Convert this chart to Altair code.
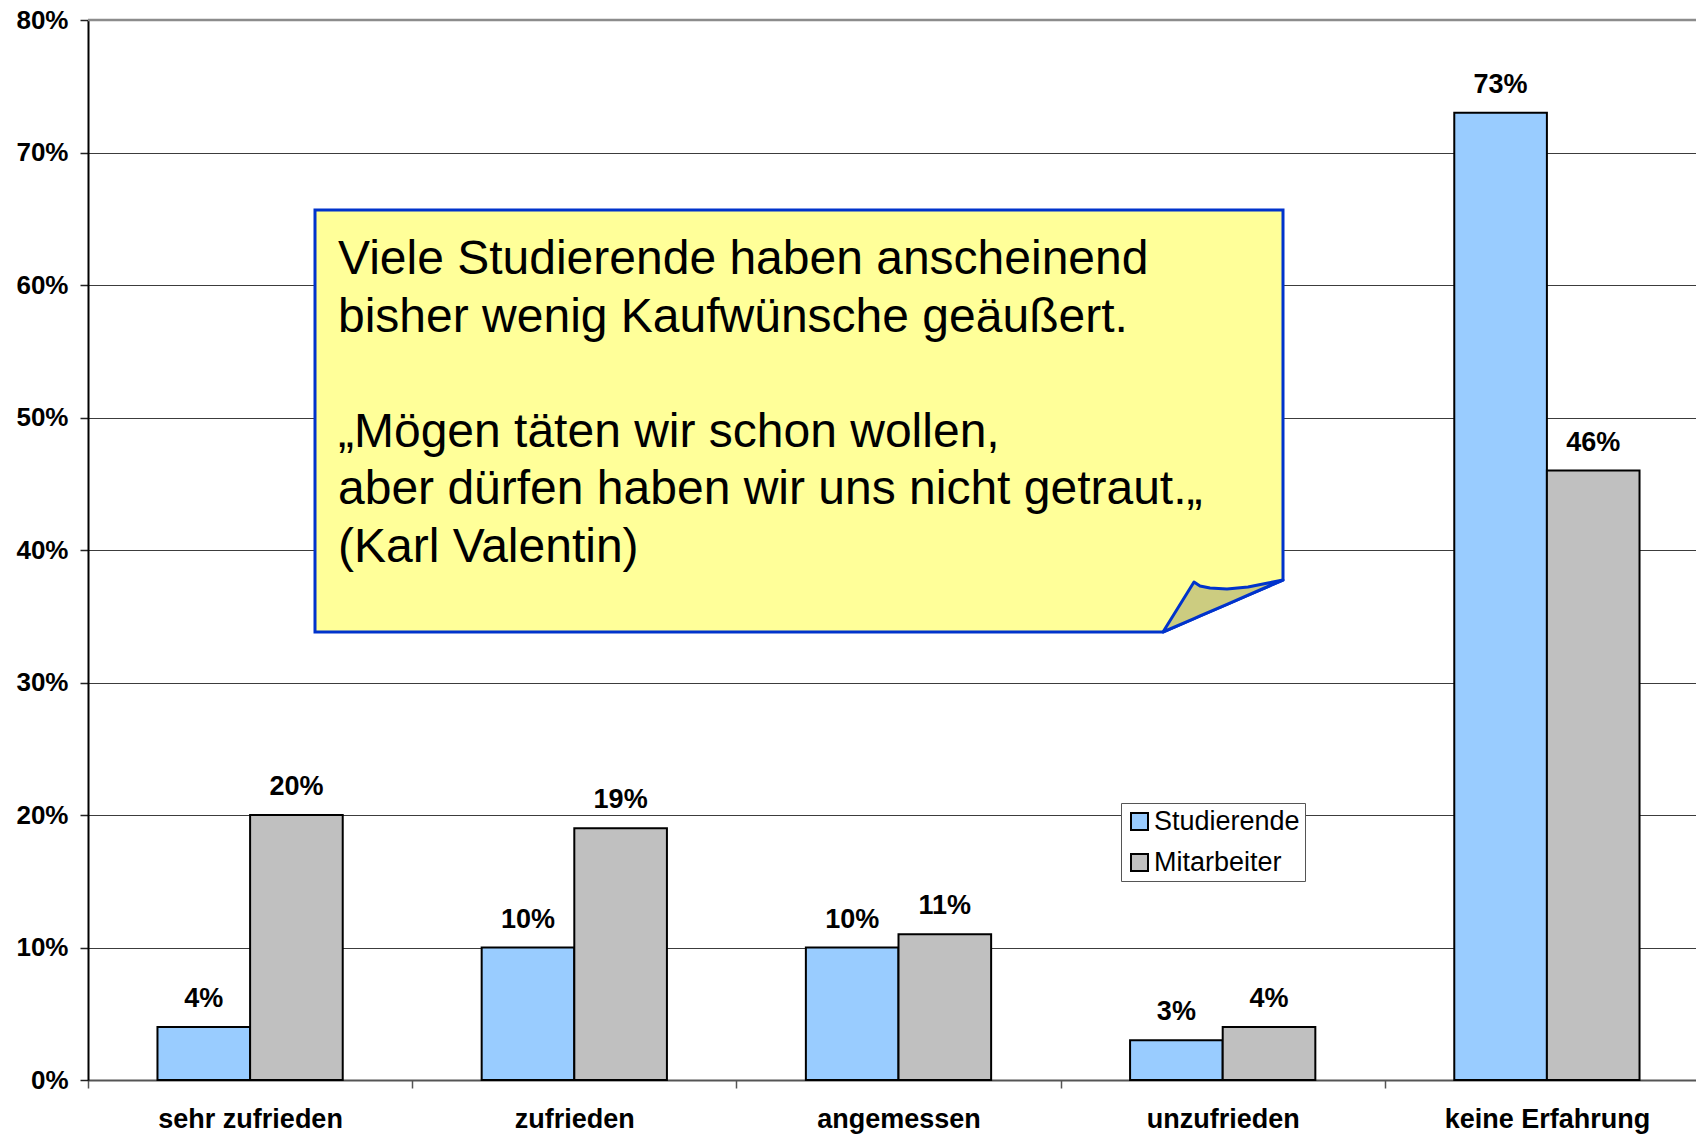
import altair as alt
import pandas as pd

categories = ["sehr zufrieden", "zufrieden", "angemessen", "unzufrieden", "keine Erfahrung"]
series = ["Studierende", "Mitarbeiter"]
studierende = [4, 10, 10, 3, 73]
mitarbeiter = [20, 19, 11, 4, 46]
y_ticks = [0, 10, 20, 30, 40, 50, 60, 70, 80]

note_block1 = ["Viele Studierende haben anscheinend",
               "bisher wenig Kaufwünsche geäußert."]
note_block2 = ["„Mögen täten wir schon wollen,",
               "aber dürfen haben wir uns nicht getraut.„",
               "(Karl Valentin)"]

W, H = 1608, 1060
XR = 1621
FONT = "Liberation Sans"

rows = []
for c, s, m in zip(categories, studierende, mitarbeiter):
    rows.append({"cat": c, "grp": "Studierende", "val": s, "lbl": f"{s}%"})
    rows.append({"cat": c, "grp": "Mitarbeiter", "val": m, "lbl": f"{m}%"})
df = pd.DataFrame(rows)

x_enc = alt.X("cat:N", sort=categories,
              scale=alt.Scale(paddingInner=0, paddingOuter=0, range=[0, XR]),
              axis=alt.Axis(title=None, labelAngle=0, labelFont=FONT, labelFontSize=27,
                            labelFontWeight="bold", labelColor="black", tickBand="extent",
                            tickSize=8, tickColor="#555555", tickWidth=1.5, labelLimit=0,
                            domainColor="#555555", domainWidth=2, labelPadding=18, grid=False))
xo_enc = alt.XOffset("grp:N", sort=series, scale=alt.Scale(paddingInner=0, paddingOuter=0.75))
y_enc = alt.Y("val:Q", scale=alt.Scale(domain=[0, 80], nice=False),
              axis=alt.Axis(title=None, values=y_ticks, labelExpr="datum.value + '%'",
                            labelFont=FONT, labelFontSize=26, labelFontWeight="bold",
                            labelColor="black", tickSize=8, tickColor="#222222", tickWidth=1.5,
                            labelPadding=12, domainColor="black", domainWidth=2,
                            grid=True, gridColor="#3c3c3c", gridWidth=1))

bars = alt.Chart(df).mark_bar(stroke="black", strokeWidth=2).encode(
    x=x_enc, xOffset=xo_enc, y=y_enc,
    color=alt.Color("grp:N", sort=series,
                    scale=alt.Scale(domain=series, range=["#99CCFF", "#C0C0C0"]),
                    legend=alt.Legend(title=None, orient="none", legendX=1033, legendY=783,
                                      fillColor="white", strokeColor="#555555", padding=5,
                                      symbolType="square", symbolSize=289,
                                      symbolStrokeColor="black", symbolStrokeWidth=2,
                                      labelFont=FONT, labelFontSize=27, labelColor="black",
                                      labelOffset=1, rowPadding=13)),
)

labels = alt.Chart(df).mark_text(baseline="alphabetic", dy=-20, font=FONT, fontSize=27,
                                 fontWeight="bold", color="black").encode(
    x=x_enc, xOffset=xo_enc, y=y_enc, text="lbl:N")

top_line = alt.Chart(alt.Data(values=[{}])).mark_rule(color="#8c8c8c", strokeWidth=2.5).encode(
    x=alt.value(0), x2=alt.value(W), y=alt.value(0))

main = alt.layer(bars, labels, top_line)

# callout note (pixel space annotation)
note_df = pd.DataFrame({"px": [227, 1075, 1195], "py": [190, 190, 190], "py2": [612, 612, 560]})
fold_px = [1075, 1106, 1112, 1122, 1139, 1160, 1180, 1195]
fold_top = [612, 562, 566, 568, 569, 567, 563, 560]
fold_bot = [612 - (x - 1075) * 52 / 120 for x in fold_px]
fold_df = pd.DataFrame({"px": fold_px, "py": fold_top, "py2": fold_bot})
px = alt.X("px:Q", scale=alt.Scale(domain=[0, W], nice=False, zero=False), axis=None)
py = alt.Y("py:Q", scale=alt.Scale(domain=[H, 0], nice=False, zero=False), axis=None)

note = alt.Chart(note_df).mark_area(fill="#FFFF99", stroke="#0033CC", strokeWidth=3,
                                    opacity=1, fillOpacity=1, orient="vertical",
                                    interpolate="linear").encode(
    x=px, y=py, y2="py2:Q")
fold = alt.Chart(fold_df).mark_area(fill="#CCCC80", stroke="#0033CC", strokeWidth=3,
                                    opacity=1, fillOpacity=1, orient="vertical",
                                    interpolate="linear", strokeJoin="round").encode(
    x=px, y=py, y2="py2:Q")
text_props = dict(align="left", baseline="alphabetic", font=FONT, fontSize=48,
                  lineHeight=57.6, lineBreak="\n", color="black")
note_text1 = alt.Chart(alt.Data(values=[{}])).mark_text(**text_props).encode(
    x=alt.value(250), y=alt.value(254), text=alt.value("\n".join(note_block1)))
note_text2 = alt.Chart(alt.Data(values=[{}])).mark_text(**text_props).encode(
    x=alt.value(250), y=alt.value(254 + 3 * 57.6), text=alt.value("\n".join(note_block2)))

annot = alt.layer(note, fold, note_text1, note_text2)

chart = alt.layer(main, annot).resolve_scale(x="independent", y="independent").properties(
    width=W, height=H,
    autosize=alt.AutoSizeParams(type="none"),
    padding={"left": 80, "top": 12, "right": 0, "bottom": 64},
    background="white",
).configure_view(strokeWidth=0)

chart.save("out.html", embed_options={"renderer": "svg", "actions": False})
